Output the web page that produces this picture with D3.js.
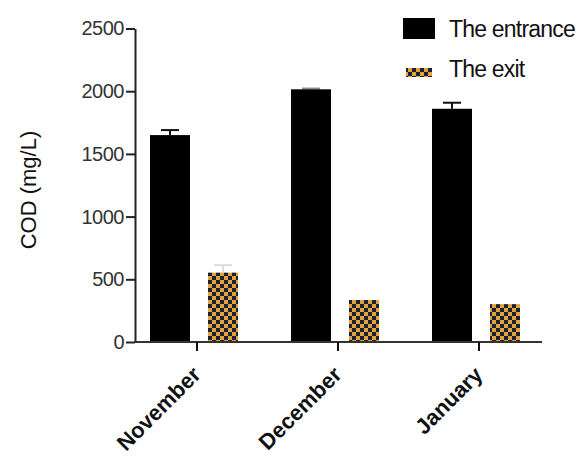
<!DOCTYPE html>
<html>
<head>
<meta charset="utf-8">
<script src="https://cdn.jsdelivr.net/npm/d3@7"></script>
<style>
  html, body { margin: 0; padding: 0; background: #fff; }
  svg { display: block; font-family: "Liberation Sans", Arial, sans-serif; }
</style>
</head>
<body>
<svg id="chart" width="585" height="461"></svg>
<script>
// COD readings per month, inlet vs outlet
const months = ["November", "December", "January"];
const series = ["The entrance", "The exit"];
const entranceValues = [1650, 2015, 1860];
const entranceErrors = [40, 6, 48];
const exitValues = [553, 335, 302];
const exitErrors = [60, 0, 0];
const yTicks = [0, 500, 1000, 1500, 2000, 2500];

const svg = d3.select("#chart");

// checkerboard fill for the outlet bars
const cell = 4;
const defs = svg.append("defs");
const pat = defs.append("pattern")
  .attr("id", "checker")
  .attr("patternUnits", "userSpaceOnUse")
  .attr("width", cell * 2).attr("height", cell * 2);
pat.append("rect").attr("width", cell * 2).attr("height", cell * 2).attr("fill", "#e3a13e");
pat.append("rect").attr("x", 0).attr("y", 0).attr("width", cell).attr("height", cell).attr("fill", "#1d2230");
pat.append("rect").attr("x", cell).attr("y", cell).attr("width", cell).attr("height", cell).attr("fill", "#1d2230");

const axisX0 = 135, axisX1 = 542;
const y = d3.scaleLinear().domain([0, 2500]).range([342, 28.5]);
const xg = d3.scalePoint().domain(months).range([197, 479]);

// bar geometry relative to each month's tick
const entOffset = -47, entWidth = 40;
const exOffset = 11, exWidth = 30;

const rows = months.map((m, i) => ({
  month: m,
  ent: entranceValues[i], entErr: entranceErrors[i],
  ex: exitValues[i], exErr: exitErrors[i]
}));

// error bars (drawn first so bar tops cover the lower whisker)
function errorBar(cx, v, e, color) {
  if (!e) return;
  const g = svg.append("g").attr("stroke", color).attr("stroke-width", 2);
  g.append("line").attr("x1", cx).attr("x2", cx).attr("y1", y(v)).attr("y2", y(v + e));
  g.append("line").attr("x1", cx - 9).attr("x2", cx + 9).attr("y1", y(v + e)).attr("y2", y(v + e));
}
rows.forEach(r => {
  errorBar(xg(r.month) + entOffset + entWidth / 2, r.ent, r.entErr, r.month === "December" ? "#888" : "#111");
  errorBar(xg(r.month) + exOffset + exWidth / 2, r.ex, r.exErr, "#ddd");
});

// inlet bars
svg.append("g").selectAll("rect").data(rows).join("rect")
  .attr("x", d => xg(d.month) + entOffset)
  .attr("width", entWidth)
  .attr("y", d => y(d.ent))
  .attr("height", d => y(0) - y(d.ent))
  .attr("fill", "#000");

// outlet bars
svg.append("g").selectAll("rect").data(rows).join("rect")
  .attr("x", d => xg(d.month) + exOffset)
  .attr("width", exWidth)
  .attr("y", d => y(d.ex))
  .attr("height", d => y(0) - y(d.ex))
  .attr("fill", "url(#checker)");

// y axis
const yAxis = svg.append("g")
  .attr("transform", `translate(${axisX0},0)`)
  .call(d3.axisLeft(y).tickValues(yTicks).tickFormat(d3.format("d"))
    .tickSize(9).tickPadding(2).tickSizeOuter(0));
yAxis.select(".domain").attr("stroke", "#222").attr("stroke-width", 2);
yAxis.selectAll(".tick line").attr("stroke", "#222").attr("stroke-width", 2);
yAxis.selectAll(".tick text")
  .attr("font-size", 20)
  .attr("font-family", "Liberation Sans, Arial, sans-serif")
  .attr("fill", "#333")
  .attr("letter-spacing", -0.5);

// x axis baseline and month ticks
svg.append("line")
  .attr("x1", axisX0 - 1).attr("x2", axisX1)
  .attr("y1", y(0)).attr("y2", y(0))
  .attr("stroke", "#333").attr("stroke-width", 2);
svg.append("g").selectAll("line").data(months).join("line")
  .attr("x1", d => xg(d)).attr("x2", d => xg(d))
  .attr("y1", y(0)).attr("y2", y(0) + 9)
  .attr("stroke", "#111").attr("stroke-width", 2);

// rotated month labels
svg.append("g").selectAll("text").data(months).join("text")
  .attr("transform", d => `translate(${xg(d) + 5},${y(0) + 34}) rotate(-45)`)
  .attr("text-anchor", "end")
  .attr("font-size", 22)
  .attr("font-weight", "bold")
  .attr("fill", "#111")
  .text(d => d);

// y axis title
svg.append("text")
  .attr("transform", "translate(36,190) rotate(-90)")
  .attr("text-anchor", "middle")
  .attr("font-size", 22)
  .attr("fill", "#111")
  .text("COD (mg/L)");

// legend
const legend = svg.append("g");
legend.append("rect").attr("x", 403).attr("y", 18).attr("width", 32).attr("height", 21).attr("fill", "#000");
legend.append("rect").attr("x", 406).attr("y", 68).attr("width", 26).attr("height", 9).attr("fill", "url(#checker)");
legend.selectAll("text").data(series).join("text")
  .attr("x", 449)
  .attr("y", (d, i) => 37 + i * 40)
  .attr("font-size", 23)
  .attr("letter-spacing", -0.8)
  .attr("fill", "#111")
  .text(d => d);
</script>
</body>
</html>
